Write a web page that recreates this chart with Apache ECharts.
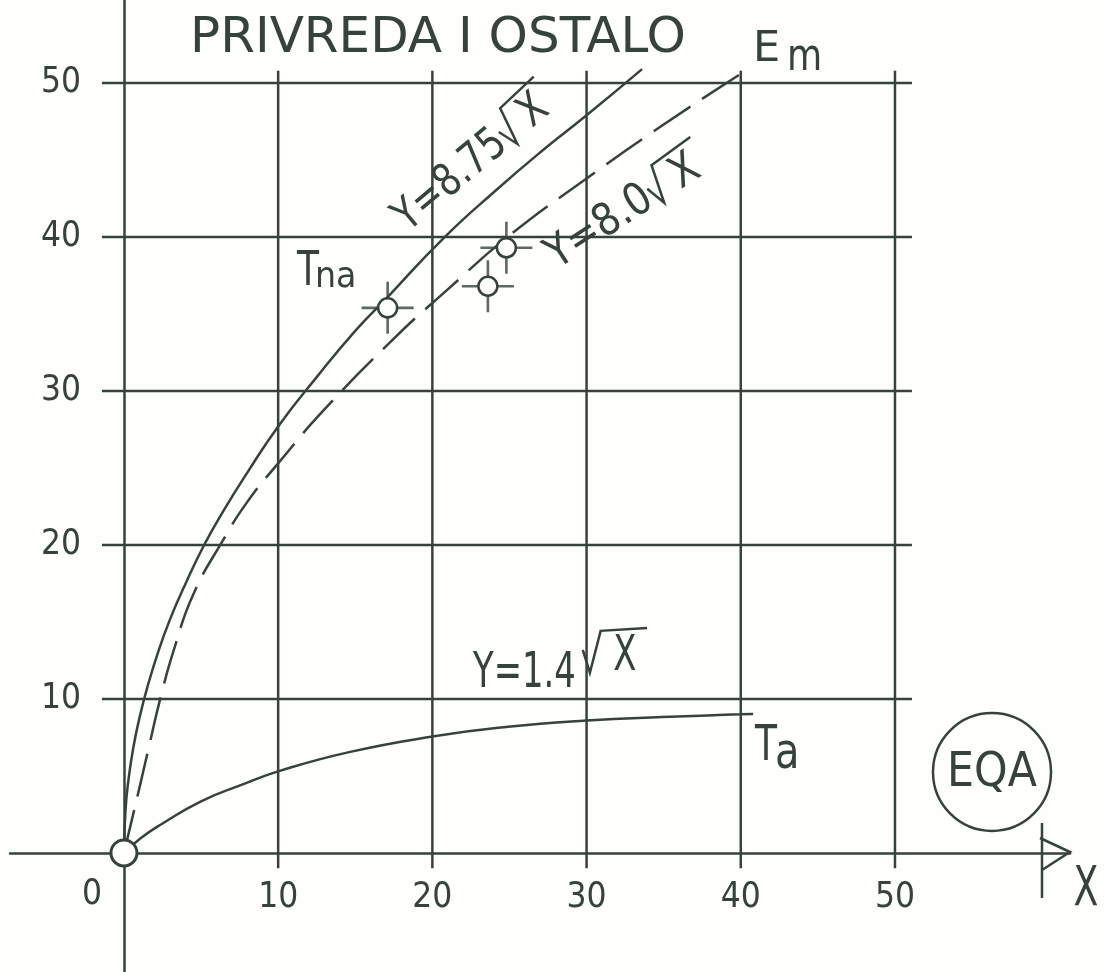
<!DOCTYPE html>
<html>
<head>
<meta charset="utf-8">
<title>PRIVREDA I OSTALO</title>
<script src="https://cdn.jsdelivr.net/npm/echarts@6/dist/echarts.min.js"></script>
<style>
  html, body { margin: 0; padding: 0; background: #fefefc; }
  #chart { width: 1104px; height: 972px; }
</style>
</head>
<body>
<div id="chart"></div>
<script>
// tick labels on both axes
var xTicks = [10, 20, 30, 40, 50]
var yTicks = [10, 20, 30, 40, 50]

// Tna curve (solid, Y=8.75 sqrt X)
var tnaX = [0, 0.1, 0.3, 0.6, 1, 1.5, 2.2, 3, 4, 5.2, 6.5, 8, 10, 12.5, 15, 17.1, 20.7, 24.2, 27, 30, 33.6]
var tnaY = [0, 2.8, 4.8, 6.8, 8.75, 10.7, 13.0, 15.2, 17.5, 20.0, 22.3, 24.7, 27.7, 30.9, 33.9, 36.1, 39.9, 43.1, 45.5, 47.9, 50.9]

// Em curve (dashed, Y=8.0 sqrt X)
var emX = [0, 0.5, 0.95, 1.6, 2.4, 3.3, 4.5, 6.36, 8, 10, 13, 17.5, 21, 25, 30, 35, 40]
var emY = [0, 2.1, 4.0, 6.8, 10.2, 13.4, 16.8, 20.2, 22.8, 25.3, 28.8, 33.4, 36.6, 40.1, 43.8, 47.3, 50.6]

// Ta curve (solid, Y=1.4 sqrt X)
var taX = [0, 1.1, 2.4, 5.0, 7.7, 10, 14.6, 20, 24.9, 30, 34.9, 40, 40.8]
var taY = [0, 0.97, 1.85, 3.35, 4.45, 5.3, 6.55, 7.56, 8.19, 8.6, 8.83, 9.0, 9.03]

// measured points (circle with cross)
var pointX = [17.1, 23.6, 24.8]
var pointY = [35.4, 36.8, 39.3]

// the open circle at the origin
var originX = [0]
var originY = [0]

var INK = '#35433c'
var PAPER = '#fefefc'
var FONT = '"DejaVu Sans", sans-serif'
var TICK_FONT = '"Liberation Sans Narrow", "DejaVu Sans Condensed", "DejaVu Sans", sans-serif'

// how far the grid lines run past the plot
var gridLow = -1.0
var gridHighY = 50.8
var gridLowX = -1.43
var gridHighX = 51.1

function pairs (xs, ys) {
  return xs.map(function (x, i) { return [x, ys[i]] })
}

function lineSeries (data, extra) {
  var s = {
    type: 'line',
    data: data,
    symbol: 'none',
    silent: true,
    animation: false,
    lineStyle: { color: INK, width: 2.5 }
  }
  return Object.assign(s, extra || {})
}

var measureCtx = document.createElement('canvas').getContext('2d')
function textWidth (str, size) {
  measureCtx.font = size + 'px "DejaVu Sans"'
  return measureCtx.measureText(str).width
}

function txt (str, x, y, size, sx, align) {
  return {
    type: 'text',
    x: x,
    y: y,
    scaleX: sx || 1,
    silent: true,
    style: {
      text: str,
      fontFamily: FONT,
      fontSize: size,
      fill: INK,
      align: align || 'left',
      verticalAlign: 'middle'
    }
  }
}

// label like "Y=8.75√X", the root sign drawn by hand
function rootLabel (prefix, left, base, deg, size, sx, lift, gap) {
  var c = 0.73 * size
  var r0 = textWidth(prefix, size) * sx + (gap || 2)
  var wx = textWidth('X', size) * sx
  var xAt = r0 + 0.85 * c
  var top = -1.15 * c - lift
  var mid = -0.3 * size
  return {
    type: 'group',
    x: left,
    y: base,
    rotation: deg * Math.PI / 180,
    silent: true,
    children: [
      txt(prefix, 0, mid, size, sx),
      {
        type: 'polyline',
        shape: {
          points: [
            [r0, -0.62 * c - lift],
            [r0 + 0.2 * c, 0.02 * c - lift],
            [r0 + 0.5 * c, top],
            [xAt + wx + 0.3 * c, top - 0.08 * c]
          ]
        },
        style: { fill: 'none', stroke: INK, lineWidth: 2.5 }
      },
      txt('X', xAt, mid - lift, size, sx)
    ]
  }
}

var series = []

// grid lines, from the tick lists
xTicks.forEach(function (t) {
  series.push(lineSeries([[t, gridLow], [t, gridHighY]]))
})
yTicks.forEach(function (t) {
  series.push(lineSeries([[gridLowX, t], [gridHighX, t]]))
})

// curves
series.push(lineSeries(pairs(tnaX, tnaY), { smooth: 0.5, z: 3 }))
series.push(lineSeries(pairs(emX, emY), {
  smooth: 0.5,
  z: 3,
  lineStyle: { color: INK, width: 2.5, type: [44, 14] }
}))
series.push(lineSeries(pairs(taX, taY), { smooth: 0.5, z: 3 }))

// crosses behind the point circles
series.push({
  type: 'scatter',
  data: pairs(pointX, pointY),
  symbol: 'path://M0,24.7L52,24.7L52,27.3L0,27.3ZM24.7,0L27.3,0L27.3,52L24.7,52Z',
  symbolSize: 52,
  silent: true,
  animation: false,
  z: 4,
  itemStyle: { color: INK }
})
series.push({
  type: 'scatter',
  data: pairs(pointX, pointY),
  symbol: 'circle',
  symbolSize: 19,
  silent: true,
  animation: false,
  z: 5,
  itemStyle: { color: PAPER, borderColor: INK, borderWidth: 2.5, opacity: 1 }
})
series.push({
  type: 'scatter',
  data: pairs(originX, originY),
  symbol: 'circle',
  symbolSize: 26,
  silent: true,
  animation: false,
  z: 5,
  itemStyle: { color: PAPER, borderColor: INK, borderWidth: 3, opacity: 1 }
})

var chart = echarts.init(document.getElementById('chart'))
chart.setOption({
  backgroundColor: PAPER,
  animation: false,
  grid: { left: 10, right: 34, top: 0, bottom: 0, containLabel: false, outerBoundsMode: 'none' },
  xAxis: {
    type: 'value',
    position: 'bottom',
    offset: -119,
    min: -7.39,
    max: 61.35,
    axisLine: { onZero: false, lineStyle: { color: INK, width: 2.5 } },
    axisTick: { show: false },
    splitLine: { show: false },
    axisLabel: {
      customValues: xTicks,
      margin: 27,
      color: INK,
      fontFamily: TICK_FONT,
      fontSize: 35
    }
  },
  yAxis: {
    type: 'value',
    position: 'left',
    offset: -114,
    min: -7.73,
    max: 55.39,
    axisLine: { onZero: false, lineStyle: { color: INK, width: 2.5 } },
    axisTick: { show: false },
    splitLine: { show: false },
    axisLabel: {
      customValues: yTicks,
      margin: 43,
      color: INK,
      fontFamily: TICK_FONT,
      fontSize: 35
    }
  },
  series: series,
  graphic: [
    txt('PRIVREDA I OSTALO', 190, 39, 50, 1),
    txt('E', 753, 50, 43, 1),
    txt('m', 787, 59, 44, 0.82),
    txt('T', 297, 273, 48, 0.75),
    txt('na', 315, 278, 35, 0.95),
    txt('T', 755, 747, 50, 0.72),
    txt('a', 775, 755, 50, 0.8),
    rootLabel('Y=8.75', 409, 234, 40, 45, 0.8, 0),
    rootLabel('Y=8.0', 558, 271, 33, 45, 0.86, 0),
    rootLabel('Y=1.4', 473, 689, 0, 49, 0.69, 17, 7),
    {
      type: 'circle',
      shape: { cx: 992, cy: 772, r: 59 },
      style: { fill: 'none', stroke: INK, lineWidth: 2.5 },
      silent: true
    },
    txt('EQA', 992, 774, 48, 0.89, 'center'),
    {
      type: 'polyline',
      shape: { points: [[1040, 838], [1070, 852], [1042, 870]] },
      style: { fill: 'none', stroke: INK, lineWidth: 2.5 },
      silent: true
    },
    {
      type: 'line',
      shape: { x1: 1042, y1: 823, x2: 1042, y2: 898 },
      style: { stroke: INK, lineWidth: 2.5 },
      silent: true
    },
    txt('X', 1086, 891, 55, 0.66, 'center'),
    {
      type: 'text',
      x: 92,
      y: 895,
      silent: true,
      style: { text: '0', fontFamily: TICK_FONT, fontSize: 35, fill: INK, align: 'center', verticalAlign: 'middle' }
    }
  ]
})
</script>
</body>
</html>
